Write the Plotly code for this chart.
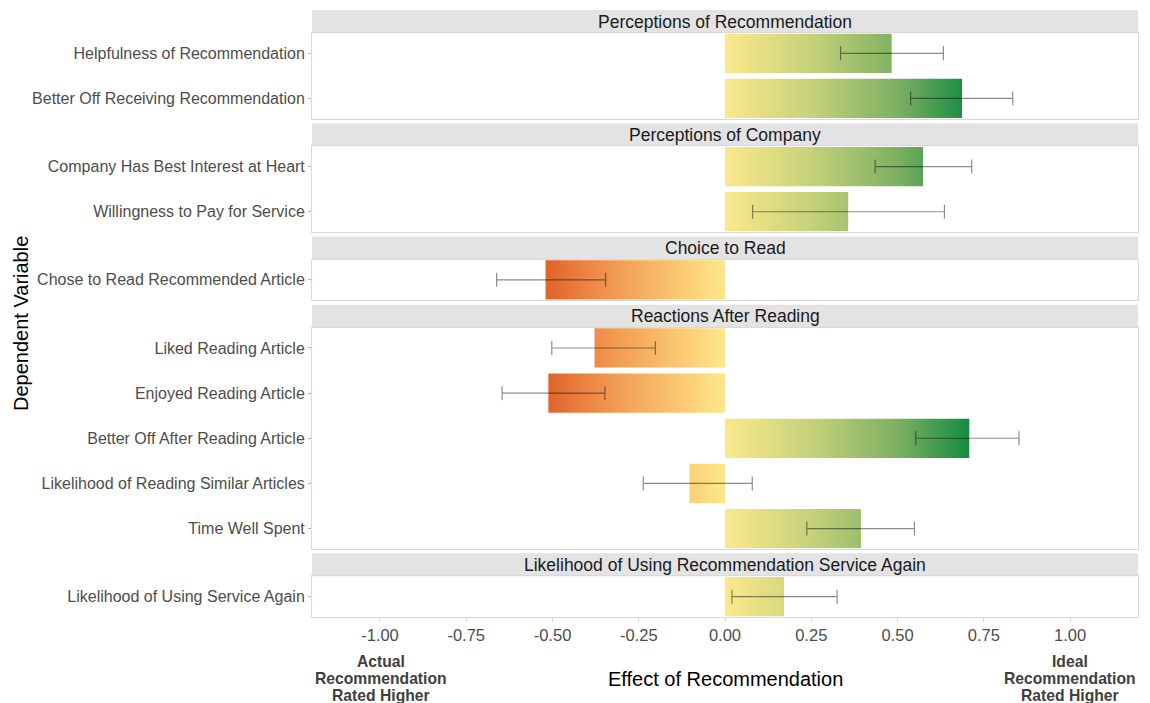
import plotly.graph_objects as go

W, H = 1150, 703

# ---------------- data ----------------
panel_titles = [
    "Perceptions of Recommendation",
    "Perceptions of Company",
    "Choice to Read",
    "Reactions After Reading",
    "Likelihood of Using Recommendation Service Again",
]
panel_vars = [
    ["Helpfulness of Recommendation", "Better Off Receiving Recommendation"],
    ["Company Has Best Interest at Heart", "Willingness to Pay for Service"],
    ["Chose to Read Recommended Article"],
    ["Liked Reading Article", "Enjoyed Reading Article", "Better Off After Reading Article",
     "Likelihood of Reading Similar Articles", "Time Well Spent"],
    ["Likelihood of Using Service Again"],
]
panel_est = [
    [0.483, 0.687],
    [0.574, 0.357],
    [-0.520],
    [-0.378, -0.512, 0.708, -0.103, 0.394],
    [0.171],
]
panel_lo = [
    [0.335, 0.538],
    [0.435, 0.080],
    [-0.662],
    [-0.502, -0.646, 0.553, -0.237, 0.237],
    [0.020],
]
panel_hi = [
    [0.633, 0.834],
    [0.715, 0.636],
    [-0.346],
    [-0.202, -0.348, 0.852, 0.079, 0.549],
    [0.325],
]
x_ticks = [-1.0, -0.75, -0.5, -0.25, 0.0, 0.25, 0.5, 0.75, 1.0]
x_ticktext = ["-1.00", "-0.75", "-0.50", "-0.25", "0.00", "0.25", "0.50", "0.75", "1.00"]

# ---------------- style ----------------
FONT = "Arial, Liberation Sans, sans-serif"
X_RANGE = [-1.197, 1.197]
G_START, G_STOP = -0.53, 0.72
grad_stops = [(-0.53, "#de5f27"), (-0.40, "#ec8443"), (-0.25, "#f5ac5f"),
              (-0.10, "#fcd077"), (0.0, "#fbe88b"), (0.25, "#c5d27a"),
              (0.50, "#7db062"), (0.72, "#0e893f")]
colorscale = [[(v - G_START) / (G_STOP - G_START), c] for v, c in grad_stops]

HALF = 0.435   # bar half-height (in row units)
PAD = 0.45     # panel padding (row units)

# layout geometry in pixels
X0, X1 = 312, 1138
TOP, STRIP_H, GAP, BOTTOM = 10, 23, 4.5, 617
n_rows_total = sum(len(v) - 1 + 2 * PAD for v in panel_vars)
U = (BOTTOM - TOP - len(panel_vars) * STRIP_H - (len(panel_vars) - 1) * GAP) / n_rows_total

def px(p):
    return p / W

def py(p):
    return 1 - p / H

fig = go.Figure()
layout = dict(
    width=W, height=H,
    margin=dict(l=0, r=0, t=0, b=0),
    paper_bgcolor="white", plot_bgcolor="white",
    showlegend=False,
    font=dict(family=FONT, color="#4d4d4d", size=16),
)
shapes, annotations = [], []

y = TOP
for i, (title, vars_, est, lo, hi) in enumerate(zip(panel_titles, panel_vars, panel_est, panel_lo, panel_hi)):
    k = i + 1
    n = len(vars_)
    strip_top = y
    strip_bot = y + STRIP_H
    pan_top = strip_bot
    pan_bot = pan_top + U * (n - 1 + 2 * PAD)
    y = pan_bot + GAP

    xa = "x" if k == 1 else f"x{k}"
    ya = "y" if k == 1 else f"y{k}"
    xkey = "xaxis" if k == 1 else f"xaxis{k}"
    ykey = "yaxis" if k == 1 else f"yaxis{k}"

    # strip
    shapes.append(dict(type="rect", xref="paper", yref="paper",
                       x0=px(X0), x1=px(X1), y0=py(strip_bot), y1=py(strip_top),
                       fillcolor="#e3e3e3", line=dict(width=0), layer="below"))
    annotations.append(dict(text=title, xref="paper", yref="paper",
                            x=px((X0 + X1) / 2), y=py((strip_top + strip_bot) / 2),
                            xanchor="center", yanchor="middle", showarrow=False,
                            font=dict(family=FONT, size=17.5, color="#1a1a1a")))

    last = (k == len(panel_titles))
    layout[xkey] = dict(
        domain=[px(X0), px(X1)], anchor=ya, range=X_RANGE,
        showgrid=False, zeroline=False,
        showline=True, mirror=True, linecolor="#d9d9d9", linewidth=1,
        tickvals=x_ticks, ticktext=x_ticktext,
        showticklabels=last, ticks="outside" if last else "",
        ticklen=3, tickcolor="#d0d0d0",
        tickfont=dict(family=FONT, size=16.5, color="#4d4d4d"),
        fixedrange=True,
    )
    layout[ykey] = dict(
        domain=[py(pan_bot), py(pan_top)], anchor=xa,
        range=[n - 1 + PAD, -PAD],
        tickvals=list(range(n)), ticktext=vars_,
        showgrid=False, zeroline=False,
        showline=True, mirror=True, linecolor="#d9d9d9", linewidth=1,
        ticks="outside", ticklen=3, tickcolor="#b3b3b3",
        tickfont=dict(family=FONT, size=16, color="#4d4d4d"),
        fixedrange=True,
    )

    # gradient bars
    for j, v in enumerate(est):
        fig.add_trace(go.Scatter(
            x=[0, v, v, 0, 0],
            y=[j - HALF, j - HALF, j + HALF, j + HALF, j - HALF],
            mode="lines", line=dict(width=0),
            fill="toself",
            fillgradient=dict(type="horizontal", start=G_START, stop=G_STOP,
                              colorscale=colorscale),
            xaxis=xa, yaxis=ya, hoverinfo="skip",
        ))
    # error bars
    fig.add_trace(go.Scatter(
        x=est, y=list(range(n)), mode="markers",
        marker=dict(size=1, color="rgba(0,0,0,0)"),
        error_x=dict(type="data", symmetric=False,
                     array=[h - e for h, e in zip(hi, est)],
                     arrayminus=[e - l for e, l in zip(est, lo)],
                     color="rgba(0,0,0,0.45)", thickness=1.2, width=7),
        xaxis=xa, yaxis=ya, hoverinfo="skip",
    ))

# axis titles & side notes
annotations.append(dict(text="Dependent Variable", xref="paper", yref="paper",
                        x=px(21), y=py(324), textangle=-90, showarrow=False,
                        xanchor="center", yanchor="middle",
                        font=dict(family=FONT, size=20, color="#000000")))
annotations.append(dict(text="Effect of Recommendation", xref="paper", yref="paper",
                        x=px(725), y=py(679), showarrow=False,
                        xanchor="center", yanchor="middle",
                        font=dict(family=FONT, size=20, color="#000000")))
left_note = ["Actual", "Recommendation", "Rated Higher"]
right_note = ["Ideal", "Recommendation", "Rated Higher"]
for idx, (lt, rt) in enumerate(zip(left_note, right_note)):
    yy = 661 + idx * 17
    for txt, xx in ((lt, 381), (rt, 1070)):
        annotations.append(dict(text=f"<b>{txt}</b>", xref="paper", yref="paper",
                                x=px(xx), y=py(yy), showarrow=False,
                                xanchor="center", yanchor="middle",
                                font=dict(family=FONT, size=15.7, color="#404040")))

layout["shapes"] = shapes
layout["annotations"] = annotations
fig.update_layout(**layout)
fig.write_html("out.html")
